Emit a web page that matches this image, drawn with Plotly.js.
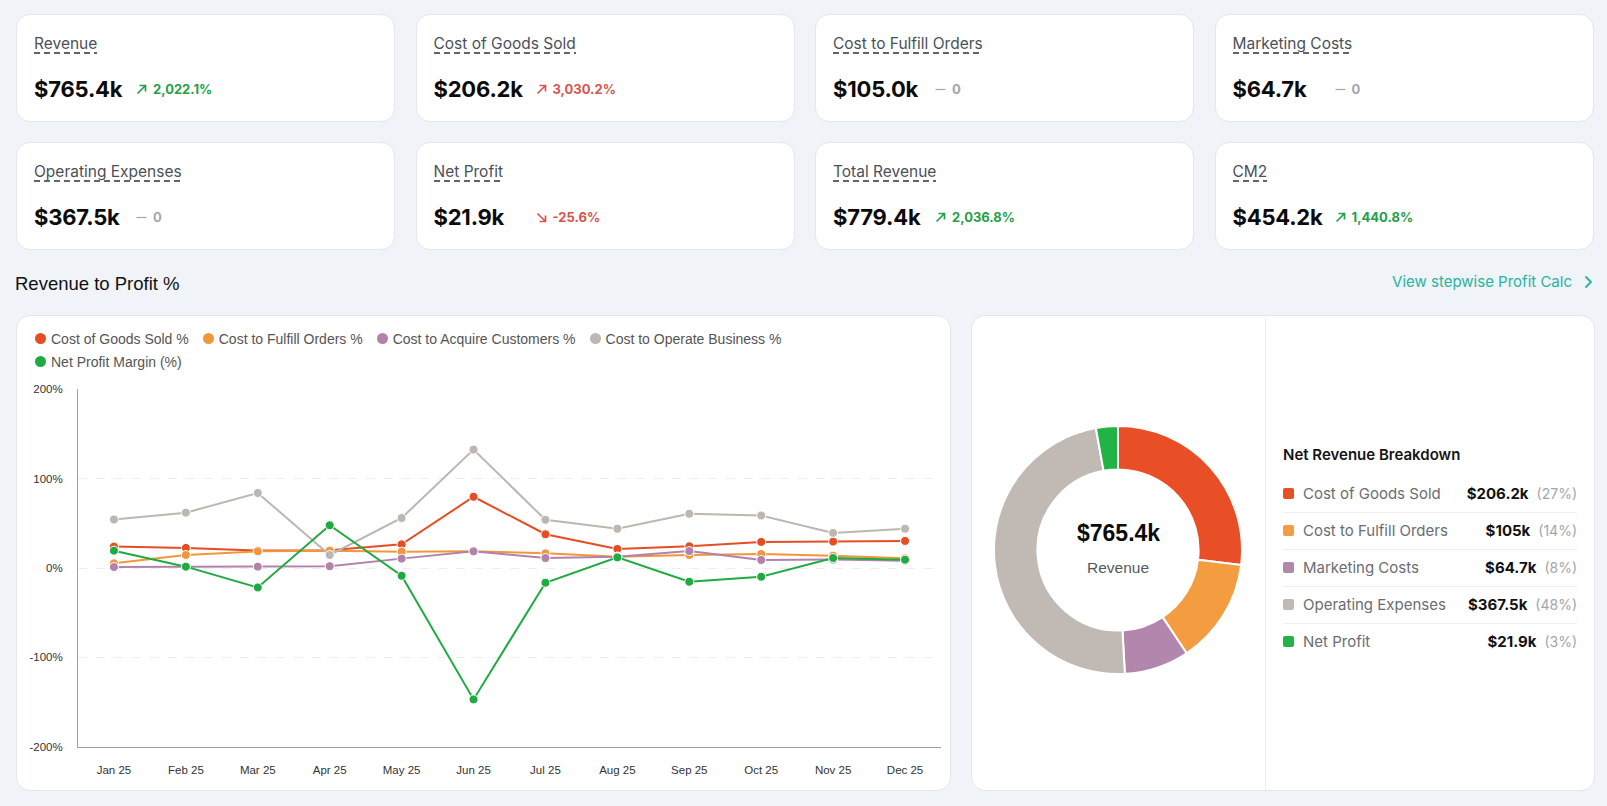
<!DOCTYPE html>
<html>
<head>
<meta charset="utf-8">
<script src="https://cdn.plot.ly/plotly-3.0.1.min.js"></script>
<style>
  html, body { margin:0; padding:0; background:#f0f3f7; width:1607px; height:806px; overflow:hidden; }
  body { position:relative; font-family: Inter, "Noto Sans", sans-serif; }
  .card { position:absolute; background:#fff; border:1px solid #e3e6eb; border-radius:14px; box-sizing:border-box; }
  .kpi-label { position:absolute; left:17px; top:19px; font-size:15.5px; line-height:19px; color:#4b5058; padding-bottom:1px;
    background: repeating-linear-gradient(to right, #60646c 0 6px, transparent 6px 10px) left bottom / 100% 2px no-repeat; }
  .kpi-row { position:absolute; left:17px; top:60px; display:flex; align-items:center; height:28px; }
  .kpi-val { font-size:22px; font-weight:700; color:#0b0b0b; min-width:90px; margin-right:12px; letter-spacing:-0.2px; }
  .kpi-chg { display:flex; align-items:center; font-size:13px; font-weight:700; }
  .kpi-chg svg { margin-right:6px; }
  .good { color:#23a047; } .bad { color:#d9534f; } .neutral { color:#a3a6ad; }
  #heading { position:absolute; left:15px; top:272px; font-family:"Liberation Sans", Arial, sans-serif; font-size:18.5px; color:#111; line-height:24px; }
  #link { position:absolute; right:14px; top:271px; font-size:15px; color:#27b39f; line-height:22px; display:flex; align-items:center; }
  #link svg { margin-left:12px; }
  #legend { position:absolute; left:18px; top:11px; width:820px; display:flex; flex-wrap:wrap; font-family:"Liberation Sans", Arial, sans-serif; font-size:14px; color:#555; }
  .lg-item { display:flex; align-items:center; height:23px; margin-right:14px; }
  .lg-dot { width:11px; height:11px; border-radius:50%; margin-right:5px; }
  #bd-title { position:absolute; left:311px; top:128px; font-size:15px; font-weight:600; color:#151515; line-height:22px; }
  .bd-row { position:absolute; left:311px; width:294px; height:36px; display:flex; align-items:center; font-size:15px; }
  .bd-sw { width:11px; height:11px; border-radius:2px; margin-right:9px; flex:none; }
  .bd-name { color:#6a6d72; flex:1; white-space:nowrap; }
  .bd-val { color:#111; font-weight:700; }
  .bd-pct { color:#a2a5aa; font-size:14px; margin-left:8px; }
  .bd-div { position:absolute; left:311px; width:294px; height:1px; background:#eceef1; }
</style>
</head>
<body>
<div id="kpis"></div>
<div id="heading">Revenue to Profit %</div>
<div id="link">View stepwise Profit Calc<svg width="9" height="14" viewBox="0 0 9 14"><polyline points="2,2 7,7 2,12" fill="none" stroke="#27b39f" stroke-width="1.8" stroke-linecap="round" stroke-linejoin="round"/></svg></div>

<div class="card" id="lineCard" style="left:16px;top:315px;width:935px;height:476px;">
  <div id="legend"></div>
  <div id="lineChart" style="position:absolute;left:0;top:0;"></div>
</div>

<div class="card" id="donutCard" style="left:971px;top:315px;width:624px;height:476px;">
  <div style="position:absolute;left:293px;top:0;width:1px;height:100%;background:#eceef2;"></div>
  <div id="donut" style="position:absolute;left:22px;top:110px;"></div>
  <div id="bd-title">Net Revenue Breakdown</div>
  <div id="bdList"></div>
</div>

<script>
// ---------- KPI data ----------
const kpiLabels  = ['Revenue', 'Cost of Goods Sold', 'Cost to Fulfill Orders', 'Marketing Costs',
                    'Operating Expenses', 'Net Profit', 'Total Revenue', 'CM2'];
const kpiValues  = ['$765.4k', '$206.2k', '$105.0k', '$64.7k', '$367.5k', '$21.9k', '$779.4k', '$454.2k'];
const kpiChanges = ['2,022.1%', '3,030.2%', '0', '0', '0', '-25.6%', '2,036.8%', '1,440.8%'];
const kpiTrend   = ['up', 'up', 'flat', 'flat', 'flat', 'down', 'up', 'up'];
const kpiTone    = ['good', 'bad', 'neutral', 'neutral', 'neutral', 'bad', 'good', 'good'];

// ---------- Line chart data ----------
const months = ['Jan 25', 'Feb 25', 'Mar 25', 'Apr 25', 'May 25', 'Jun 25',
                'Jul 25', 'Aug 25', 'Sep 25', 'Oct 25', 'Nov 25', 'Dec 25'];
const seriesNames = ['Cost of Goods Sold %', 'Cost to Fulfill Orders %', 'Cost to Acquire Customers %',
                     'Cost to Operate Business %', 'Net Profit Margin (%)'];
const cogsPct      = [24, 22.5, 19.5, 20, 26.5, 79.8, 37.8, 21.3, 24.3, 29.2, 29.6, 30.3];
const fulfillPct   = [5.2, 14.6, 18.7, 19.4, 18.3, 18.7, 16.4, 12.7, 14.6, 15.7, 13.8, 10.8];
const acquirePct   = [1.1, 1.5, 1.5, 2, 10.5, 18.7, 11.2, 12.7, 19, 9, 9.4, 8.2];
const operatePct   = [54.3, 62, 84, 14.6, 56, 132.6, 54, 44, 60.7, 58.8, 39.3, 44];
const netMarginPct = [19.4, 1.5, -21.8, 47.9, -8.7, -147.2, -16.5, 11.9, -15.4, -9.8, 11.2, 9.3];
const yTicks = [-200, -100, 0, 100, 200];
const yTickText = ['-200%', '-100%', '0%', '100%', '200%'];

// ---------- Donut / breakdown data ----------
const breakdownLabels = ['Cost of Goods Sold', 'Cost to Fulfill Orders', 'Marketing Costs', 'Operating Expenses', 'Net Profit'];
const breakdownValues = [206.2, 105.0, 64.7, 367.5, 21.9];   // $k
const breakdownText   = ['$206.2k', '$105k', '$64.7k', '$367.5k', '$21.9k'];
const centerValue = '$765.4k';
const centerLabel = 'Revenue';

// ---------- styles ----------
const lineColors  = ['#e64d24', '#f0973b', '#b282ac', '#bdb6b1', '#20aa42'];
const donutColors = ['#e94f26', '#f39c40', '#b386ad', '#c0b9b4', '#22b345'];

// ---------- KPI cards ----------
const kpiBox = document.getElementById('kpis');
const cardLeft = [16, 415.5, 815, 1214.5], cardTop = [14, 142];
function trendIcon(t, color) {
  if (t === 'up') return '<svg width="11" height="11" viewBox="0 0 11 11"><path d="M1.5 9.5 L9.5 1.5 M3.5 1.5 H9.5 V7.5" fill="none" stroke="'+color+'" stroke-width="1.7"/></svg>';
  if (t === 'down') return '<svg width="11" height="11" viewBox="0 0 11 11"><path d="M1.5 1.5 L9.5 9.5 M3.5 9.5 H9.5 V3.5" fill="none" stroke="'+color+'" stroke-width="1.7"/></svg>';
  return '<svg width="11" height="11" viewBox="0 0 11 11"><path d="M0.5 5.5 H10.5" stroke="'+color+'" stroke-width="1.2"/></svg>';
}
const toneColor = {good:'#23a047', bad:'#d9534f', neutral:'#a3a6ad'};
kpiLabels.forEach((lab, i) => {
  const c = document.createElement('div');
  c.className = 'card';
  c.style.left = cardLeft[i % 4] + 'px';
  c.style.top = cardTop[Math.floor(i / 4)] + 'px';
  c.style.width = '379px'; c.style.height = '108px';
  c.innerHTML = '<div class="kpi-label">' + lab + '</div>' +
    '<div class="kpi-row"><span class="kpi-val">' + kpiValues[i] + '</span>' +
    '<span class="kpi-chg ' + kpiTone[i] + '">' + trendIcon(kpiTrend[i], toneColor[kpiTone[i]]) + kpiChanges[i] + '</span></div>';
  kpiBox.appendChild(c);
});

// ---------- legend ----------
const legend = document.getElementById('legend');
seriesNames.forEach((n, i) => {
  const d = document.createElement('div');
  d.className = 'lg-item';
  d.innerHTML = '<span class="lg-dot" style="background:' + lineColors[i] + '"></span>' + n;
  legend.appendChild(d);
});

// ---------- line chart ----------
const seriesData = [cogsPct, fulfillPct, acquirePct, operatePct, netMarginPct];
const lineTraces = seriesData.map((ys, i) => ({
  type: 'scatter', mode: 'lines+markers', name: seriesNames[i],
  x: months, y: ys,
  line: {color: lineColors[i], width: 2},
  marker: {color: lineColors[i], size: 9, line: {color: '#ffffff', width: 1}},
  hovertemplate: '%{x}: %{y}%<extra>' + seriesNames[i] + '</extra>'
}));
const tickFont = {family: '"Liberation Sans", Arial, sans-serif', size: 11.5, color: '#333'};
Plotly.newPlot('lineChart', lineTraces, {
  width: 935, height: 476,
  margin: {l: 61, r: 11, t: 73, b: 45},
  paper_bgcolor: 'rgba(0,0,0,0)', plot_bgcolor: 'rgba(0,0,0,0)',
  showlegend: false,
  xaxis: {type: 'category', range: [-0.5, 11.5], showgrid: false, showline: true, linecolor: '#a0a0a0', linewidth: 1,
          ticks: '', tickfont: tickFont, ticklabelstandoff: 12, fixedrange: true},
  yaxis: {range: [-200.5, 200.5], tickvals: yTicks, ticktext: yTickText, showline: true, linecolor: '#a0a0a0', linewidth: 1,
          showgrid: true, gridcolor: '#ededed', griddash: 'dash', gridwidth: 1, zeroline: false,
          ticks: '', tickfont: tickFont, ticklabelstandoff: 12, fixedrange: true}
}, {displayModeBar: false, responsive: false});

// ---------- donut ----------
Plotly.newPlot('donut', [{
  type: 'pie', labels: breakdownLabels, values: breakdownValues, hole: 0.65,
  sort: false, direction: 'clockwise', rotation: 0, textinfo: 'none',
  marker: {colors: donutColors, line: {color: '#ffffff', width: 2}},
  hovertemplate: '%{label}: $%{value}k<extra></extra>'
}], {
  width: 248, height: 248, margin: {l: 0, r: 0, t: 0, b: 0},
  paper_bgcolor: 'rgba(0,0,0,0)', showlegend: false,
  annotations: [
    {text: '<b>' + centerValue + '</b>', x: 0.5, y: 0.569, xref: 'paper', yref: 'paper', showarrow: false,
     font: {family: '"Liberation Sans", Arial, sans-serif', size: 23, color: '#0b0b0b'}},
    {text: centerLabel, x: 0.5, y: 0.428, xref: 'paper', yref: 'paper', showarrow: false,
     font: {family: '"Liberation Sans", Arial, sans-serif', size: 15.5, color: '#555a60'}}
  ]
}, {displayModeBar: false});

// ---------- breakdown list ----------
const bdList = document.getElementById('bdList');
const total = breakdownValues.reduce((a, b) => a + b, 0);
const rowCenters = [177, 214, 251, 288, 325];
breakdownLabels.forEach((lab, i) => {
  const r = document.createElement('div');
  r.className = 'bd-row';
  r.style.top = (rowCenters[i] - 18) + 'px';
  r.innerHTML = '<span class="bd-sw" style="background:' + donutColors[i] + '"></span>' +
    '<span class="bd-name">' + lab + '</span>' +
    '<span class="bd-val">' + breakdownText[i] + '</span>' +
    '<span class="bd-pct">(' + Math.round(breakdownValues[i] / total * 100) + '%)</span>';
  bdList.appendChild(r);
  if (i < breakdownLabels.length - 1) {
    const d = document.createElement('div');
    d.className = 'bd-div';
    d.style.top = Math.round((rowCenters[i] + rowCenters[i + 1]) / 2) + 'px';
    bdList.appendChild(d);
  }
});
</script>
</body>
</html>
